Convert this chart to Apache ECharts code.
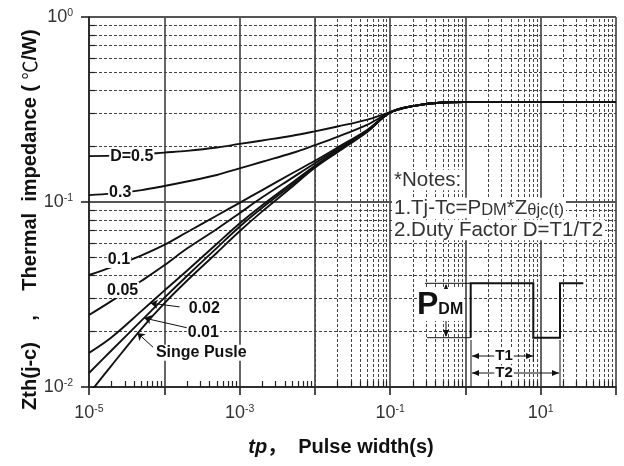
<!DOCTYPE html>
<html><head><meta charset="utf-8">
<script src="https://cdn.jsdelivr.net/npm/echarts@6/dist/echarts.min.js"></script>
<style>html,body{margin:0;padding:0;background:#fff}#c{width:624px;height:466px}</style>
</head><body><div id="c"></div>
<script>
// ---- data ----
const tp = [1e-5, 2e-5, 5e-5, 1e-4, 2e-4, 5e-4, 1e-3, 2e-3, 5e-3, 1e-2, 2e-2, 5e-2, 1e-1, 2e-1, 5e-1, 1, 10, 100];
const zD05   = [0.177, 0.178, 0.181, 0.185, 0.189, 0.197, 0.206, 0.215, 0.228, 0.241, 0.256, 0.279, 0.306, 0.330, 0.345, 0.347, 0.347, 0.347];
const zD03   = [0.109, 0.111, 0.116, 0.122, 0.129, 0.140, 0.152, 0.165, 0.184, 0.203, 0.225, 0.262, 0.305, 0.330, 0.345, 0.347, 0.347, 0.347];
const zD01   = [0.0403, 0.0445, 0.0515, 0.0586, 0.0686, 0.0845, 0.099, 0.116, 0.143, 0.167, 0.197, 0.246, 0.305, 0.330, 0.345, 0.347, 0.347, 0.347];
const zD005  = [0.0245, 0.0292, 0.0375, 0.0455, 0.056, 0.0715, 0.087, 0.106, 0.135, 0.162, 0.193, 0.244, 0.305, 0.330, 0.345, 0.347, 0.347, 0.347];
const zD002  = [0.0153, 0.0186, 0.0258, 0.0332, 0.0425, 0.0595, 0.0765, 0.096, 0.127, 0.157, 0.190, 0.242, 0.305, 0.330, 0.345, 0.347, 0.347, 0.347];
const zD001  = [0.0119, 0.0158, 0.0229, 0.0303, 0.0398, 0.0565, 0.0735, 0.093, 0.124, 0.155, 0.188, 0.241, 0.305, 0.330, 0.345, 0.347, 0.347, 0.347];
const zSingle= [0.0092, 0.0131, 0.0207, 0.0283, 0.0375, 0.0532, 0.0695, 0.089, 0.121, 0.153, 0.186, 0.240, 0.305, 0.330, 0.345, 0.347, 0.347, 0.347];
const curveNames = ['D=0.5', '0.3', '0.1', '0.05', '0.02', '0.01', 'Singe Pusle'];
const xLabelExponents = [-5, -3, -1, 1];
const yLabelExponents = [-2, -1, 0];

// ---- annotation anchors (data space) ----
const labelAnchors = [
  {text: 'D=0.5', coord: [3.7e-5, 0.177]},
  {text: '0.3', coord: [2.6e-5, 0.112]},
  {text: '0.1', coord: [2.5e-5, 0.0486]},
  {text: '0.05', coord: [2.8e-5, 0.0334]},
  {text: '0.02', coord: [3.4e-4, 0.0267]},
  {text: '0.01', coord: [3.3e-4, 0.0198]},
  {text: 'Singe Pusle', coord: [3.1e-4, 0.0153]}
];
const arrowAnchors = [
  [[1.6e-4, 0.0271], [6.6e-5, 0.0284]],
  [[2.0e-4, 0.0209], [5.4e-5, 0.0236]],
  [[7.1e-5, 0.0164], [4.4e-5, 0.0196]]
];

const FONT = '"Liberation Sans", Arial, "Noto Sans CJK SC", sans-serif';
const CJK = '"Noto Sans CJK SC", sans-serif';
const chart = echarts.init(document.getElementById('c'), null, {renderer: 'canvas'});

// minor grid values
const minorX = [], minorY = [];
for (let e = -5; e <= 1; e++) for (let m = 2; m <= 9; m++) minorX.push(m * Math.pow(10, e));
for (let e = -2; e <= -1; e++) for (let m = 2; m <= 9; m++) minorY.push(m * Math.pow(10, e));
const tickLenY = Math.pow(10, -2 + 6 / 185);
const tickLenX = Math.pow(10, -5 + 6 / 75.3);
const minorTickSegs = [];
minorX.forEach(v => minorTickSegs.push([{coord: [v, 0.01]}, {coord: [v, tickLenY]}]));
minorY.forEach(v => minorTickSegs.push([{coord: [1e-5, v]}, {coord: [tickLenX, v]}]));

function expOf(v) { return Math.round(Math.log10(v)); }
const supRich = {
  b: {fontSize: 18, fontFamily: FONT, color: '#333'},
  s: {fontSize: 10.5, fontFamily: FONT, color: '#333', verticalAlign: 'top'}
};

const allY = [zD05, zD03, zD01, zD005, zD002, zD001, zSingle];
const curveSeries = allY.map((ys, k) => ({
  name: curveNames[k],
  type: 'line',
  data: tp.map((x, i) => [x, ys[i]]),
  smooth: 0.35,
  symbol: 'none',
  clip: true,
  z: 3,
  lineStyle: {color: '#111', width: 1.9},
  silent: true
}));

const option = {
  animation: false,
  backgroundColor: '#fff',
  grid: {left: 89, right: 8, top: 17, bottom: 79, containLabel: false, outerBoundsMode: 'none'},
  xAxis: {
    type: 'log', logBase: 10, min: 1e-5, max: 100, interval: 1,
    axisLine: {show: true, lineStyle: {color: '#222', width: 1.6}},
    axisTick: {show: true, inside: false, length: 8, lineStyle: {color: '#222', width: 1.6}},
    splitLine: {show: true, lineStyle: {color: '#555', width: 1.8, type: 'solid'}},
    minorTick: {show: false}, minorSplitLine: {show: false},
    axisLabel: {
      margin: 17,
      formatter: v => { const e = expOf(v); return xLabelExponents.indexOf(e) >= 0 ? '{b|10}{s|' + e + '}' : ''; },
      rich: supRich
    }
  },
  yAxis: {
    type: 'log', logBase: 10, min: 0.01, max: 1, interval: 1,
    axisLine: {show: true, lineStyle: {color: '#222', width: 1.6}},
    axisTick: {show: true, inside: false, length: 8, lineStyle: {color: '#222', width: 1.6}},
    splitLine: {show: true, lineStyle: {color: '#555', width: 1.8, type: 'solid'}},
    minorTick: {show: false}, minorSplitLine: {show: false},
    axisLabel: {
      margin: 16,
      formatter: v => { const e = expOf(v); return yLabelExponents.indexOf(e) >= 0 ? '{b|10}{s|' + e + '}' : ''; },
      rich: supRich
    }
  },
  series: [
    {
      name: 'minorGrid', type: 'line', data: [], symbol: 'none', silent: true, z: 1,
      markLine: {
        silent: true, z: 1, symbol: ['none', 'none'], animation: false,
        label: {show: false},
        lineStyle: {color: '#444', width: 1, type: [3, 2]},
        emphasis: {disabled: true},
        data: minorX.map(v => ({xAxis: v})).concat(minorY.map(v => ({yAxis: v})))
      }
    },
    {
      name: 'minorTicks', type: 'line', data: [], symbol: 'none', silent: true, z: 1,
      markLine: {
        silent: true, z: 2, symbol: ['none', 'none'], animation: false,
        label: {show: false},
        lineStyle: {color: '#222', width: 1.2, type: 'solid'},
        emphasis: {disabled: true},
        data: minorTickSegs
      }
    },
    ...curveSeries,
    {
      name: 'annotations', type: 'line', data: [], symbol: 'none', silent: true, z: 6,
      markPoint: {
        silent: true, z: 6, symbol: 'circle', symbolSize: 0, animation: false,
        itemStyle: {color: 'rgba(0,0,0,0)'},
        label: {show: true, position: 'inside', color: '#111', fontWeight: 'bold',
                fontSize: 16, fontFamily: FONT, backgroundColor: '#fff', padding: [0, 1]},
        data: labelAnchors.map(a => ({coord: a.coord, value: 0,
          label: {formatter: a.text}}))
      },
      markLine: {
        silent: true, z: 6, symbol: ['none', 'arrow'], symbolSize: 7, animation: false,
        label: {show: false},
        lineStyle: {color: '#111', width: 1, type: 'solid'},
        emphasis: {disabled: true},
        data: arrowAnchors.map(p => [{coord: p[0]}, {coord: p[1]}])
      }
    }
  ],
  graphic: [
    // y axis title (pieces placed along the axis)
    {type: 'text', x: 30, y: 376, rotation: Math.PI / 2, z: 50,
     style: {text: 'Zth(j-c)', font: 'bold 20px ' + FONT, fill: '#111', align: 'center', verticalAlign: 'middle'}},
    {type: 'text', x: 30, y: 318, rotation: Math.PI / 2, z: 50,
     style: {text: ',', font: 'bold 20px ' + FONT, fill: '#111', align: 'center', verticalAlign: 'middle'}},
    {type: 'text', x: 30, y: 160, rotation: Math.PI / 2, z: 50,
     style: {text: '{n|Thermal  impedance ( }{c|℃}{n|/W)}', align: 'center', verticalAlign: 'middle',
       rich: {n: {font: 'bold 20px ' + FONT, fill: '#111'}, c: {font: '19px ' + CJK, fill: '#111'}}}},
    // x axis title
    {type: 'text', x: 341, y: 447, z: 50,
     style: {text: '{i|tp}{n|，  Pulse width(s)}', align: 'center', verticalAlign: 'middle',
       rich: {i: {font: 'italic bold 20px ' + FONT, fill: '#111'}, n: {font: 'bold 20px ' + FONT, fill: '#111'}}}},
    // notes
    {type: 'text', x: 392, y: 180, z: 50,
     style: {text: '*Notes:', font: '20.5px ' + FONT, fill: '#333', align: 'left', verticalAlign: 'middle', backgroundColor: '#fff', padding: [0, 2]}},
    {type: 'text', x: 392, y: 208, z: 50,
     style: {text: '{n|1.Tj-Tc=P}{s|DM}{n|*Z}{s|θjc(t)}', align: 'left', verticalAlign: 'middle', backgroundColor: '#fff', padding: [0, 2],
       rich: {n: {font: '20.5px ' + FONT, fill: '#333'}, s: {font: '16.5px ' + FONT, fill: '#333', verticalAlign: 'bottom'}}}},
    {type: 'text', x: 392, y: 230, z: 50,
     style: {text: '2.Duty Factor D=T1/T2', font: '20.5px ' + FONT, fill: '#333', align: 'left', verticalAlign: 'middle', backgroundColor: '#fff', padding: [0, 2]}},
    // pulse diagram
    {type: 'polyline', z: 50, shape: {points: [[470.7, 337.7], [470.7, 283.3], [533.3, 283.3], [533.3, 337.7], [560, 337.7], [560, 283.3], [583.3, 283.3]]},
     style: {stroke: '#111', lineWidth: 2, fill: null}},
    {type: 'line', z: 50, shape: {x1: 425, y1: 283.3, x2: 470.7, y2: 283.3}, style: {stroke: '#111', lineWidth: 1}},
    {type: 'line', z: 50, shape: {x1: 427, y1: 337.7, x2: 470.7, y2: 337.7}, style: {stroke: '#111', lineWidth: 1}},
    {type: 'line', z: 50, shape: {x1: 471, y1: 340, x2: 471, y2: 387}, style: {stroke: '#111', lineWidth: 1}},
    {type: 'line', z: 50, shape: {x1: 533.3, y1: 340, x2: 533.3, y2: 362}, style: {stroke: '#111', lineWidth: 1}},
    {type: 'line', z: 50, shape: {x1: 560, y1: 340, x2: 560, y2: 387}, style: {stroke: '#111', lineWidth: 1}},
    {type: 'line', z: 50, shape: {x1: 446, y1: 285, x2: 446, y2: 294}, style: {stroke: '#111', lineWidth: 1}},
    {type: 'polygon', z: 50, shape: {points: [[446, 284], [443, 291], [449, 291]]}, style: {fill: '#111'}},
    {type: 'line', z: 50, shape: {x1: 446, y1: 318, x2: 446, y2: 336}, style: {stroke: '#111', lineWidth: 1}},
    {type: 'polygon', z: 50, shape: {points: [[446, 337], [443, 330], [449, 330]]}, style: {fill: '#111'}},
    {type: 'text', x: 417, y: 305, z: 51,
     style: {text: '{p|P}{d|DM}', align: 'left', verticalAlign: 'middle', backgroundColor: '#fff',
       rich: {p: {font: 'bold 32px ' + FONT, fill: '#111'}, d: {font: 'bold 16px ' + FONT, fill: '#111', verticalAlign: 'bottom', padding: [0, 0, 3, 0]}}}},
    // T1
    {type: 'line', z: 50, shape: {x1: 472, y1: 356, x2: 533, y2: 356}, style: {stroke: '#111', lineWidth: 1}},
    {type: 'polygon', z: 50, shape: {points: [[472, 356], [479, 353], [479, 359]]}, style: {fill: '#111'}},
    {type: 'polygon', z: 50, shape: {points: [[533, 356], [526, 353], [526, 359]]}, style: {fill: '#111'}},
    {type: 'text', x: 504, y: 356, z: 51,
     style: {text: 'T1', font: 'bold 15px ' + FONT, fill: '#111', align: 'center', verticalAlign: 'middle', backgroundColor: '#fff', padding: [0, 1]}},
    // T2
    {type: 'line', z: 50, shape: {x1: 472, y1: 373, x2: 559, y2: 373}, style: {stroke: '#111', lineWidth: 1}},
    {type: 'polygon', z: 50, shape: {points: [[472, 373], [479, 370], [479, 376]]}, style: {fill: '#111'}},
    {type: 'polygon', z: 50, shape: {points: [[559, 373], [552, 370], [552, 376]]}, style: {fill: '#111'}},
    {type: 'text', x: 504, y: 373, z: 51,
     style: {text: 'T2', font: 'bold 15px ' + FONT, fill: '#111', align: 'center', verticalAlign: 'middle', backgroundColor: '#fff', padding: [0, 1]}}
  ]
};
chart.setOption(option);
</script>
</body></html>
